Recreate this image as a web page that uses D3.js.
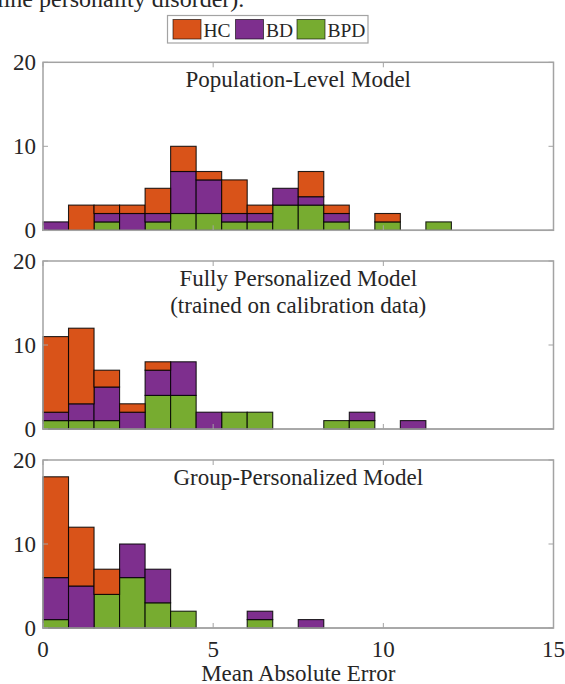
<!DOCTYPE html>
<html>
<head>
<meta charset="utf-8">
<script src="https://cdn.jsdelivr.net/npm/d3@7"></script>
<style>
  body { margin: 0; background: #fff; }
  svg text { font-family: "Liberation Serif", "Times New Roman", Times, serif; fill: #262626; }
</style>
</head>
<body>
<svg id="chart" width="565" height="684"></svg>
<script>
// histogram bins: 0.75 wide, from 0 to 15
var binStarts = [0, 0.75, 1.5, 2.25, 3, 3.75, 4.5, 5.25, 6, 6.75, 7.5, 8.25, 9, 9.75, 10.5, 11.25, 12, 12.75, 13.5, 14.25];
var binWidth = 0.75;

var groups = ["HC", "BD", "BPD"];
var groupColors = ["#D95319", "#7E2F8E", "#77AC30"];

var xTicks = [0, 5, 10, 15];
var yTicks = [0, 10, 20];

// counts per bin, one array per group and per panel
var popHC  = [0, 3, 1, 1, 3, 3, 1, 4, 1, 0, 3, 1, 0, 1, 0, 0, 0, 0, 0, 0];
var popBD  = [1, 0, 1, 2, 1, 5, 4, 1, 1, 2, 1, 1, 0, 0, 0, 0, 0, 0, 0, 0];
var popBPD = [0, 0, 1, 0, 1, 2, 2, 1, 1, 3, 3, 1, 0, 1, 0, 1, 0, 0, 0, 0];

var fullHC  = [9, 9, 2, 1, 1, 0, 0, 0, 0, 0, 0, 0, 0, 0, 0, 0, 0, 0, 0, 0];
var fullBD  = [1, 2, 4, 2, 3, 4, 2, 0, 0, 0, 0, 0, 1, 0, 1, 0, 0, 0, 0, 0];
var fullBPD = [1, 1, 1, 0, 4, 4, 0, 2, 2, 0, 0, 1, 1, 0, 0, 0, 0, 0, 0, 0];

var groupHC  = [12, 7, 3, 0, 0, 0, 0, 0, 0, 0, 0, 0, 0, 0, 0, 0, 0, 0, 0, 0];
var groupBD  = [5, 5, 0, 4, 4, 0, 0, 0, 1, 0, 1, 0, 0, 0, 0, 0, 0, 0, 0, 0];
var groupBPD = [1, 0, 4, 6, 3, 2, 0, 0, 1, 0, 0, 0, 0, 0, 0, 0, 0, 0, 0, 0];

var panels = [
    {title: ["Population-Level Model"], hc: popHC, bd: popBD, bpd: popBPD},
    {title: ["Fully Personalized Model", "(trained on calibration data)"], hc: fullHC, bd: fullBD, bpd: fullBPD},
    {title: ["Group-Personalized Model"], hc: groupHC, bd: groupBD, bpd: groupBPD}
];

var svg = d3.select("#chart");
var left = 43, right = 553.5;
var panelTops = [62.3, 261, 460], panelH = 168;
var axisColor = "#a3a3a3";
var fontSize = 23;

var x = d3.scaleLinear().domain([0, 15]).range([left, right]);

// cut-off caption line from the page above the figure
svg.append("text")
    .attr("x", -3).attr("y", 7)
    .style("font-size", "24px")
    .text("line personality disorder).");

panels.forEach(function (p, pi) {
    var top = panelTops[pi];
    var y = d3.scaleLinear().domain([0, 20]).range([top + panelH, top]);
    var g = svg.append("g");

    // stack: BPD bottom, BD middle, HC top
    var rows = binStarts.map(function (b, i) {
        return {x0: b, BPD: p.bpd[i], BD: p.bd[i], HC: p.hc[i]};
    });
    var stack = d3.stack().keys(["BPD", "BD", "HC"])(rows);

    // empty bins draw as a flat edge along the baseline
    g.append("line")
        .attr("x1", x(0)).attr("x2", x(15))
        .attr("y1", y(0)).attr("y2", y(0))
        .attr("stroke", axisColor).attr("stroke-width", 1.5);

    stack.forEach(function (layer) {
        var ci = groups.indexOf(layer.key);
        g.selectAll(null).data(layer.filter(function (d) { return d[1] > d[0]; }))
          .enter().append("rect")
            .attr("x", function (d) { return x(d.data.x0); })
            .attr("width", function (d) { return x(d.data.x0 + binWidth) - x(d.data.x0); })
            .attr("y", function (d) { return y(d[1]); })
            .attr("height", function (d) { return y(d[0]) - y(d[1]); })
            .attr("fill", groupColors[ci])
            .attr("stroke", "rgba(0,0,0,0.85)")
            .attr("stroke-width", 1.1);
    });

    // box and inward ticks
    g.append("rect")
        .attr("x", left).attr("y", top)
        .attr("width", right - left).attr("height", panelH)
        .attr("fill", "none").attr("stroke", axisColor).attr("stroke-width", 1.5);

    var tl = 5;
    xTicks.forEach(function (t) {
        g.append("line").attr("x1", x(t)).attr("x2", x(t))
            .attr("y1", top).attr("y2", top + tl)
            .attr("stroke", axisColor);
        g.append("line").attr("x1", x(t)).attr("x2", x(t))
            .attr("y1", top + panelH).attr("y2", top + panelH - tl)
            .attr("stroke", axisColor);
    });
    yTicks.forEach(function (t) {
        g.append("line").attr("x1", left).attr("x2", left + tl)
            .attr("y1", y(t)).attr("y2", y(t))
            .attr("stroke", axisColor);
        g.append("line").attr("x1", right).attr("x2", right - tl)
            .attr("y1", y(t)).attr("y2", y(t))
            .attr("stroke", axisColor);
        g.append("text")
            .attr("x", left - 7).attr("y", y(t))
            .attr("dy", "0.33em")
            .attr("text-anchor", "end")
            .style("font-size", fontSize + "px")
            .text(t);
    });

    p.title.forEach(function (line, li) {
        g.append("text")
            .attr("x", (left + right) / 2)
            .attr("y", top + 25 + li * 26.5)
            .attr("text-anchor", "middle")
            .style("font-size", fontSize + "px")
            .text(line);
    });

    if (pi === panels.length - 1) {
        xTicks.forEach(function (t) {
            g.append("text")
                .attr("x", x(t)).attr("y", top + panelH + 28.5)
                .attr("text-anchor", "middle")
                .style("font-size", fontSize + "px")
                .text(t);
        });
        g.append("text")
            .attr("x", (left + right) / 2).attr("y", top + panelH + 52.5)
            .attr("text-anchor", "middle")
            .style("font-size", fontSize + "px")
            .text("Mean Absolute Error");
    }
});

//------------------------------------------------------------
// legend

var legend = svg.append("g");
legend.append("rect")
    .attr("x", 167.5).attr("y", 15.5).attr("width", 200.5).attr("height", 27.5)
    .attr("fill", "#fff").attr("stroke", axisColor).attr("stroke-width", 1.2);

var legendX = [173, 235.5, 297];
var item = legend.selectAll("g.item").data(groups).enter().append("g")
    .attr("class", "item")
    .attr("transform", function (d, i) { return "translate(" + legendX[i] + ",19.5)"; });
item.append("rect")
    .attr("width", 28).attr("height", 19.5)
    .attr("fill", function (d, i) { return groupColors[i]; })
    .attr("stroke", "rgba(0,0,0,0.6)").attr("stroke-width", 1);
item.append("text")
    .attr("x", 30.5).attr("y", 17)
    .style("font-size", "19.5px")
    .text(function (d) { return d; });
</script>
</body>
</html>
